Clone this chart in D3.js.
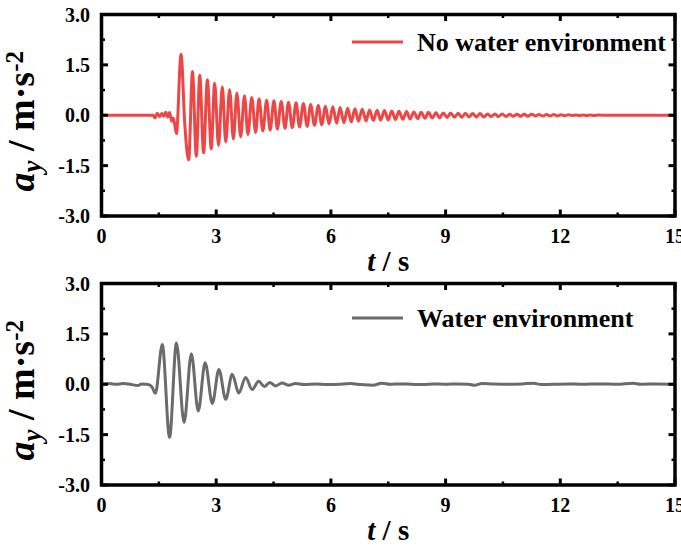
<!DOCTYPE html>
<html><head><meta charset="utf-8">
<script src="https://cdn.jsdelivr.net/npm/d3@7"></script>
<style>body{margin:0;background:#fff}</style>
</head><body><svg id="c" width="681" height="555" xmlns="http://www.w3.org/2000/svg"></svg>
<script>
// ---- data ----
const xTicks = [0, 3, 6, 9, 12, 15];
const xTickLabels = ["0", "3", "6", "9", "12", "15"];
const xMinorTicks = [1.5, 4.5, 7.5, 10.5, 13.5];
const yTicks = [-3, -1.5, 0, 1.5, 3];
const yTickLabels = ["-3.0", "-1.5", "0.0", "1.5", "3.0"];
const yMinorTicks = [-2.25, -0.75, 0.75, 2.25];
const seriesNames = ["No water environment", "Water environment"];
const seriesColors = ["#ec4646", "#6b6b6b"];

const noWaterTime = [0, 1.35, 1.40, 1.46, 1.52, 1.58, 1.63, 1.68, 1.73, 1.78, 1.84, 1.88, 1.96, 2.08, 2.18, 2.28,
  2.38, 2.48, 2.57, 2.67, 2.77, 2.87, 2.96, 3.06, 3.16, 3.25, 3.35, 3.45, 3.54, 3.64, 3.74, 3.83, 3.93, 4.03,
  4.12, 4.22, 4.32, 4.41, 4.51, 4.60, 4.70, 4.80, 4.89, 4.99, 5.09, 5.18, 5.28, 5.38, 5.47, 5.57, 5.67, 5.76,
  5.86, 5.95, 6.05, 6.15, 6.24, 6.34, 6.44, 6.53, 6.63, 6.72, 6.82, 6.92, 7.01, 7.11, 7.21, 7.30, 7.40, 7.50,
  7.59, 7.69, 7.78, 7.88, 7.98, 8.07, 8.17, 8.27, 8.36, 8.46, 8.55, 8.65, 8.75, 8.84, 8.94, 9.04, 9.13, 9.23,
  9.33, 9.42, 9.52, 9.61, 9.71, 9.81, 9.90, 10.00, 10.10, 10.19, 10.29, 10.38, 10.48, 10.58, 10.67, 10.77,
  10.87, 10.96, 11.06, 11.15, 11.25, 11.35, 11.44, 11.54, 11.64, 11.73, 11.83, 11.92, 12.02, 12.12, 12.21,
  12.31, 12.41, 12.50, 12.60, 12.69, 12.79, 12.89, 13.00, 13.20, 15.00];
const noWaterAccel = [0, 0, -0.08, 0.06, -0.04, 0.05, -0.03, 0.09, -0.05, 0.08, -0.18, -0.08, -0.55, 1.82, -0.30, -1.33,
  1.30, -1.22, 1.19, -1.12, 1.06, -1.00, 0.95, -0.90, 0.85, -0.80, 0.76, -0.71, 0.66, -0.64, 0.58, -0.57, 0.53, -0.51,
  0.49, -0.47, 0.45, -0.44, 0.43, -0.41, 0.41, -0.39, 0.39, -0.37, 0.37, -0.35, 0.35, -0.33, 0.32, -0.30, 0.29, -0.28,
  0.27, -0.26, 0.25, -0.24, 0.23, -0.22, 0.21, -0.20, 0.19, -0.18, 0.18, -0.17, 0.16, -0.16, 0.15, -0.15, 0.14, -0.14,
  0.13, -0.13, 0.12, -0.12, 0.11, -0.11, 0.10, -0.10, 0.09, -0.09, 0.09, -0.08, 0.08, -0.08, 0.07, -0.07, 0.07, -0.06,
  0.06, -0.06, 0.06, -0.05, 0.05, -0.05, 0.05, -0.05, 0.04, -0.04, 0.04, -0.04, 0.04, -0.04, 0.03, -0.03,
  0.03, -0.03, 0.03, -0.03, 0.03, -0.02, 0.02, -0.02, 0.02, -0.02, 0.02, -0.02, 0.015, -0.015, 0.015,
  -0.01, 0.01, -0.01, 0.01, -0.01, 0.01, -0.005, 0.005, 0, 0];

const waterTime = [0, 0.2, 0.4, 0.55, 0.75, 0.95, 1.05, 1.15, 1.25, 1.32, 1.41, 1.59, 1.78, 1.96, 2.16, 2.35, 2.53,
  2.71, 2.90, 3.07, 3.25, 3.42, 3.59, 3.77, 3.94, 4.11, 4.26, 4.40, 4.56, 4.72, 4.90, 5.07, 5.3, 5.6, 5.9, 6.2,
  6.5, 6.8, 7.1, 7.33, 7.55, 7.8, 8.1, 8.4, 8.7, 9.0, 9.3, 9.6, 9.76, 9.95, 10.2, 10.6, 11.0, 11.3, 11.5, 11.8,
  12.2, 12.6, 13.0, 13.5, 13.9, 14.1, 14.5, 15.0];
const waterAccel = [0, 0.02, 0.0, 0.02, 0.0, -0.04, 0.01, 0.0, -0.02, -0.08, -0.27, 1.18, -1.58, 1.23, -1.14, 0.91, -0.80,
  0.64, -0.57, 0.44, -0.45, 0.30, -0.26, 0.20, -0.16, 0.09, -0.07, 0.05, -0.05, 0.04, -0.03, 0.02, -0.01, 0.01, -0.01, 0.0,
  0.02, -0.01, -0.03, 0.03, 0.0, 0.01, 0.0, -0.01, 0.01, 0.0, 0.01, 0.0, -0.03, 0.02, 0.01, 0.0, 0.01, 0.03, -0.01, 0.0,
  0.01, 0.0, 0.01, 0.0, 0.03, 0.0, 0.01, 0.0];

// ---- layout ----
const svg = d3.select("#c");
const left = 101.5, right = 675;
const panels = [
  {top: 14.5, bottom: 216, time: noWaterTime, accel: noWaterAccel, name: seriesNames[0], color: seriesColors[0], legendY: 42},
  {top: 283.5, bottom: 485, time: waterTime, accel: waterAccel, name: seriesNames[1], color: seriesColors[1], legendY: 318}
];
const font = "'Liberation Serif','Times New Roman',serif";

panels.forEach((p, i) => {
  const x = d3.scaleLinear().domain([0, 15]).range([left, right]);
  const y = d3.scaleLinear().domain([-3, 3]).range([p.bottom, p.top]);
  const g = svg.append("g");
  const cid = "clip" + i;
  svg.append("clipPath").attr("id", cid).append("rect")
    .attr("x", left).attr("y", p.top).attr("width", right - left).attr("height", p.bottom - p.top);

  const data = p.time.map((t, k) => [t, p.accel[k]]);
  g.append("path").datum(data)
    .attr("clip-path", `url(#${cid})`)
    .attr("fill", "none").attr("stroke", p.color).attr("stroke-width", 3)
    .attr("stroke-linejoin", "round")
    .attr("d", d3.line().x(d => x(d[0])).y(d => y(d[1])).curve(d3.curveMonotoneX));

  // ticks (inward, mirrored)
  const tk = g.append("g").attr("stroke", "#000");
  const majLen = 6.5, minLen = 3.5;
  xTicks.forEach(v => {
    tk.append("line").attr("x1", x(v)).attr("x2", x(v)).attr("y1", p.bottom).attr("y2", p.bottom - majLen).attr("stroke-width", 3);
    tk.append("line").attr("x1", x(v)).attr("x2", x(v)).attr("y1", p.top).attr("y2", p.top + majLen).attr("stroke-width", 3);
  });
  xMinorTicks.forEach(v => {
    tk.append("line").attr("x1", x(v)).attr("x2", x(v)).attr("y1", p.bottom).attr("y2", p.bottom - minLen).attr("stroke-width", 2.5);
    tk.append("line").attr("x1", x(v)).attr("x2", x(v)).attr("y1", p.top).attr("y2", p.top + minLen).attr("stroke-width", 2.5);
  });
  yTicks.forEach(v => {
    tk.append("line").attr("y1", y(v)).attr("y2", y(v)).attr("x1", left).attr("x2", left + majLen).attr("stroke-width", 3);
    tk.append("line").attr("y1", y(v)).attr("y2", y(v)).attr("x1", right).attr("x2", right - majLen).attr("stroke-width", 3);
  });
  yMinorTicks.forEach(v => {
    tk.append("line").attr("y1", y(v)).attr("y2", y(v)).attr("x1", left).attr("x2", left + minLen).attr("stroke-width", 2.5);
    tk.append("line").attr("y1", y(v)).attr("y2", y(v)).attr("x1", right).attr("x2", right - minLen).attr("stroke-width", 2.5);
  });

  // frame
  g.append("rect").attr("x", left).attr("y", p.top).attr("width", right - left).attr("height", p.bottom - p.top)
    .attr("fill", "none").attr("stroke", "#000").attr("stroke-width", 3.5);

  // tick labels
  const lab = g.append("g").attr("font-family", font).attr("font-weight", "bold").attr("font-size", 20).attr("fill", "#000");
  xTicks.forEach((v, k) => {
    lab.append("text").attr("x", x(v)).attr("y", p.bottom + 27).attr("text-anchor", "middle").text(xTickLabels[k]);
  });
  yTicks.forEach((v, k) => {
    lab.append("text").attr("x", 90).attr("y", y(v)).attr("dy", "0.35em").attr("text-anchor", "end").text(yTickLabels[k]);
  });

  // x title
  const xt = g.append("text").attr("font-family", font).attr("font-weight", "bold").attr("font-size", 29)
    .attr("x", (left + right) / 2).attr("y", p.bottom + 55).attr("text-anchor", "middle");
  xt.append("tspan").attr("font-style", "italic").text("t");
  xt.append("tspan").text(" / s");

  // y title
  const cy = (p.top + p.bottom) / 2 + 6;
  const yt = g.append("text").attr("font-family", font).attr("font-weight", "bold").attr("font-size", 38)
    .attr("transform", `translate(34,${cy}) rotate(-90)`).attr("text-anchor", "middle");
  yt.append("tspan").attr("font-style", "italic").text("a");
  yt.append("tspan").attr("font-style", "italic").attr("font-size", 27).attr("dy", 7).text("y");
  yt.append("tspan").attr("dy", -7).text(" / m\u00B7s");
  yt.append("tspan").attr("font-size", 25).attr("dy", -11).text("-2");

  // legend
  g.append("line").attr("x1", 352).attr("x2", 403).attr("y1", p.legendY).attr("y2", p.legendY)
    .attr("stroke", p.color).attr("stroke-width", 3);
  g.append("text").attr("font-family", font).attr("font-weight", "bold").attr("font-size", 26)
    .attr("x", 417).attr("y", p.legendY).attr("dy", "0.33em").text(p.name);
});
</script>
</body></html>
